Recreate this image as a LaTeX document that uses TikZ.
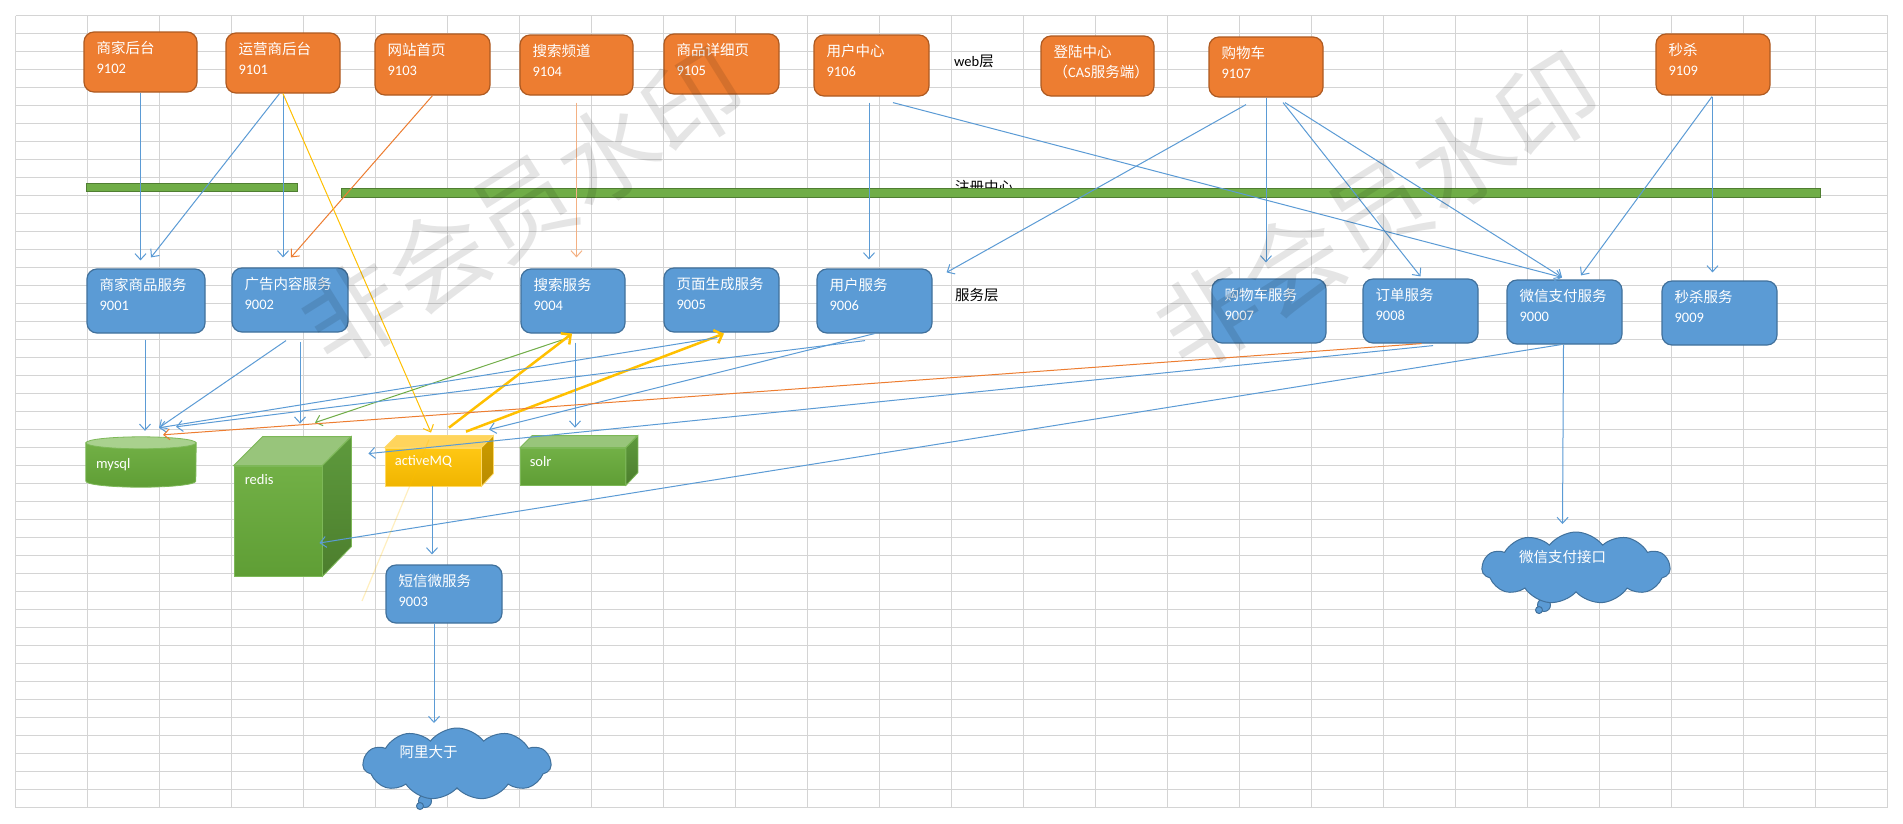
\documentclass[tikz,border=0pt]{standalone}
\usepackage{fontspec}
\setmainfont{Carlito}
\newfontfamily\cjk{Noto Sans CJK SC}
\usetikzlibrary{arrows.meta,calc,shapes.symbols}
\definecolor{orf}{HTML}{ED7D31}
\definecolor{ord}{HTML}{AE5A21}
\definecolor{blf}{HTML}{5B9BD5}
\definecolor{bld}{HTML}{41719C}
\definecolor{grf}{HTML}{70AD47}
\definecolor{grd}{HTML}{507E32}
\definecolor{gridc}{HTML}{D4D4D4}
\definecolor{yel}{HTML}{FFC000}
\definecolor{lor}{HTML}{F4B183}
\definecolor{gf1}{HTML}{72B046}
\definecolor{gf2}{HTML}{5F9E35}
\definecolor{gtop}{HTML}{98C57B}
\definecolor{gr1}{HTML}{5E9A3D}
\definecolor{gr2}{HTML}{4C7E2D}
\definecolor{gedge}{HTML}{7DB858}
\definecolor{cyltop}{HTML}{A9D18E}
\definecolor{yf1}{HTML}{FFC714}
\definecolor{yf2}{HTML}{F0B500}
\definecolor{ytop}{HTML}{FFD45C}
\definecolor{yr1}{HTML}{CC9C00}
\definecolor{yr2}{HTML}{B88B00}
\definecolor{yedge}{HTML}{FFD966}
\newcommand\twol[2]{{\cjk #1}\\#2}
\newcommand\castxt{{\cjk 登陆中心}\\{\cjk （}CAS{\cjk 服务端）}}
\begin{document}
\begin{tikzpicture}[x=1pt,y=-1pt,
  gridl/.style={draw=gridc, line width=1pt},
  webbox/.style={draw=ord, fill=orf, line width=1.2pt, rounded corners=10pt, inner sep=0pt, minimum width=114pt, minimum height=60pt},
  svcbox/.style={draw=bld, fill=blf, line width=1.2pt, rounded corners=10pt, inner sep=0pt, minimum width=115pt, minimum height=64pt},
  boxtxt/.style={anchor=north west, align=left, inner sep=0pt, text=white, font=\fontsize{14.5}{20}\selectfont, xshift=13pt, yshift=-10pt},
  stxt/.style={inner sep=0pt, text=white, font=\fontsize{14.5}{17}\selectfont},
  plaintxt/.style={anchor=west, inner sep=0pt, text=black, font=\fontsize{14.5}{17}\selectfont},
  regbar/.style={draw=grd, fill=grf, line width=1pt, inner sep=0pt},
  gcube/.style={inner sep=0pt, draw=gedge, line width=0.8pt, top color=gf1, bottom color=gf2},
  ycube/.style={inner sep=0pt, draw=yedge, line width=0.8pt, top color=yf1, bottom color=yf2},
  cloudbox/.style={cloud, cloud puffs=11, cloud puff arc=105, cloud ignores aspect, minimum width=188pt, minimum height=72pt, draw=bld, fill=blf, line width=1pt, inner sep=0pt},
  con/.style={draw=blf, line width=1pt, -{Straight Barb[length=6pt,width=11pt]}},
  conor/.style={con, draw=orf},
  conlor/.style={con, draw=lor},
  congr/.style={con, draw=grf},
  conyel/.style={con, draw=yel},
  conyelt/.style={draw=yel, line width=2.5pt, -{Straight Barb[length=7pt,width=14pt]}},
  wm/.style={font=\fontsize{100}{100}\selectfont\cjk, text=black, opacity=0.1, rotate=32, inner sep=0pt}
]
\fill[white] (0,0) rectangle (1903,823);
\useasboundingbox (0,0) rectangle (1903,823);
% grid
\foreach \i in {0,...,26}{\draw[gridl] ({15.6+72*\i},15.7) -- ({15.6+72*\i},807.7);}
\foreach \j in {0,...,44}{\draw[gridl] (15.6,{15.7+18*\j}) -- (1887.6,{15.7+18*\j});}

% registry
\node[plaintxt] (treg) at (955,187) {\cjk 注册中心};
\node[regbar, minimum width=211pt, minimum height=8pt] (reg1) at (191.5,187) {};
\node[regbar, minimum width=1479pt, minimum height=9pt] (reg2) at (1080.5,192.5) {};

% layer labels
\node[plaintxt] (tweb) at (954,61.5) {web{\cjk 层}};
\node[plaintxt] (tsvc) at (955,295) {\cjk 服务层};

% web layer
\node[webbox, minimum width=113pt, label={[boxtxt]north west:\twol{商家后台}{9102}}] (w9102) at (140.5,62) {};
\node[webbox, label={[boxtxt]north west:\twol{运营商后台}{9101}}] (w9101) at (283,63) {};
\node[webbox, minimum width=115pt, minimum height=61pt, label={[boxtxt]north west:\twol{网站首页}{9103}}] (w9103) at (432.5,64.5) {};
\node[webbox, minimum width=113pt, label={[boxtxt]north west:\twol{搜索频道}{9104}}] (w9104) at (576.5,65) {};
\node[webbox, minimum width=115pt, label={[boxtxt]north west:\twol{商品详细页}{9105}}] (w9105) at (721.5,64) {};
\node[webbox, minimum width=115pt, minimum height=61pt, label={[boxtxt]north west:\twol{用户中心}{9106}}] (w9106) at (871.5,65.5) {};
\node[webbox, minimum width=113pt, label={[boxtxt]north west:\castxt}] (wcas) at (1097.5,66) {};
\node[webbox, label={[boxtxt]north west:\twol{购物车}{9107}}] (w9107) at (1266,67) {};
\node[webbox, minimum height=61pt, label={[boxtxt]north west:\twol{秒杀}{9109}}] (w9109) at (1713,64.5) {};

% service layer
\node[svcbox, minimum width=118pt, label={[boxtxt]north west:\twol{商家商品服务}{9001}}] (s9001) at (146,301) {};
\node[svcbox, minimum width=116pt, label={[boxtxt]north west:\twol{广告内容服务}{9002}}] (s9002) at (290,300) {};
\node[svcbox, minimum width=104pt, label={[boxtxt]north west:\twol{搜索服务}{9004}}] (s9004) at (573,301) {};
\node[svcbox, label={[boxtxt]north west:\twol{页面生成服务}{9005}}] (s9005) at (721.5,300) {};
\node[svcbox, label={[boxtxt]north west:\twol{用户服务}{9006}}] (s9006) at (874.5,301) {};
\node[svcbox, minimum width=114pt, label={[boxtxt]north west:\twol{购物车服务}{9007}}] (s9007) at (1269,311) {};
\node[svcbox, label={[boxtxt]north west:\twol{订单服务}{9008}}] (s9008) at (1420.5,311) {};
\node[svcbox, label={[boxtxt]north west:\twol{微信支付服务}{9000}}] (s9000) at (1564.5,312) {};
\node[svcbox, label={[boxtxt]north west:\twol{秒杀服务}{9009}}] (s9009) at (1719.5,313) {};
\node[svcbox, minimum width=116pt, minimum height=58pt, label={[boxtxt]north west:\twol{短信微服务}{9003}}] (s9003) at (444,594) {};

% mysql cylinder
\node[inner sep=0pt, minimum width=110pt, minimum height=50pt] (mysql) at (141,462) {};
\path[draw=gedge, line width=0.8pt, top color=gf1, bottom color=gf2]
  ($(mysql.north west)+(0,6)$) -- ($(mysql.south west)+(0,-6)$)
  arc[start angle=180, end angle=360, x radius=55pt, y radius=6pt]
  -- ($(mysql.north east)+(0,6)$) -- cycle;
\filldraw[fill=cyltop, draw=gedge, line width=0.8pt] ($(mysql.north)+(0,6)$) ellipse[x radius=55pt, y radius=6pt];
\node[stxt, anchor=west] (tmysql) at ($(mysql.west)+(10,3)$) {mysql};

% redis cube
\node[gcube, minimum width=88pt, minimum height=110pt, label={[stxt, anchor=west, xshift=11pt, yshift=-14pt]north west:redis}] (redis) at (278,521) {};
\filldraw[fill=gtop, draw=gedge, line width=0.8pt] (redis.north west) -- ++(29,-29) -- ++(88,0) -- (redis.north east) -- cycle;
\path[draw=gedge, line width=0.8pt, top color=gr1, bottom color=gr2] (redis.north east) -- ++(29,-29) -- ++(0,110) -- (redis.south east) -- cycle;

% activeMQ cube
\node[ycube, minimum width=96pt, minimum height=38pt, label={[stxt, anchor=west, xshift=10pt, yshift=-14pt]north west:activeMQ}] (mq) at (433,467) {};
\filldraw[fill=ytop, draw=yedge, line width=0.8pt] (mq.north west) -- ++(12,-12) -- ++(96,0) -- (mq.north east) -- cycle;
\path[draw=yedge, line width=0.8pt, top color=yr1, bottom color=yr2] (mq.north east) -- ++(12,-12) -- ++(0,38) -- (mq.south east) -- cycle;

% solr cube
\node[gcube, minimum width=105pt, minimum height=37pt, label={[stxt, anchor=west, xshift=9.5pt, yshift=-14pt]north west:solr}] (solr) at (573,466.5) {};
\filldraw[fill=gtop, draw=gedge, line width=0.8pt] (solr.north west) -- ++(12,-12) -- ++(105,0) -- (solr.north east) -- cycle;
\path[draw=gedge, line width=0.8pt, top color=gr1, bottom color=gr2] (solr.north east) -- ++(12,-12) -- ++(0,37) -- (solr.south east) -- cycle;

% clouds
\filldraw[fill=blf, draw=bld, line width=1pt] (425,801) circle[radius=6.5pt];
\filldraw[fill=blf, draw=bld, line width=1pt] (420,806) circle[radius=3.5pt];
\node[cloudbox, label={[stxt, anchor=center, xshift=-28.5pt, yshift=12pt]center:{\cjk 阿里大于}}] (cloud1) at (457,764) {};
\filldraw[fill=blf, draw=bld, line width=1pt] (1544,605) circle[radius=6.5pt];
\filldraw[fill=blf, draw=bld, line width=1pt] (1539,610) circle[radius=3.5pt];
\node[cloudbox, label={[stxt, anchor=center, xshift=-13.5pt, yshift=11pt]center:{\cjk 微信支付接口}}] (cloud2) at (1576,568) {};

% connectors: web -> service
\draw[con] (w9102.south) -- ($(w9102.south|-s9001.north)+(0,-8)$);
\draw[con] ($(w9101.south)+(-3.5,0)$) -- ($(s9001.north)+(5,-11)$);
\draw[con] (w9101.south) -- ($(w9101.south|-s9002.north)+(0,-10)$);
\draw[conor] (w9103.south) -- ($(s9002.north)+(1,-10)$);
\draw[conyel] (w9101.south) -- ($(mq.north)+(-2,-15)$);
\draw[conlor] ($(w9104.south)+(0,7)$) -- ($(w9104.south|-s9004.north)+(0,-11)$);
\draw[con] ($(w9106.south)+(-2.5,6)$) -- ($(w9106.south|-s9006.north)+(-2.5,-9)$);
\draw[con] ($(w9106.south)+(21.5,6)$) -- ($(s9000.north)+(-2.5,-2)$);
\draw[con] ($(w9107.south)+(-20,7)$) -- ($(s9006.north east)+(14,4)$);
\draw[con] (w9107.south) -- ($(w9107.south|-s9007.north)+(0,-16)$);
\draw[con] ($(w9107.south)+(17,5)$) -- ($(s9008.north)+(0,-2)$);
\draw[con] ($(w9107.south)+(19,5)$) -- ($(s9000.north)+(-2.5,-2)$);
\draw[con] ($(w9109.south)+(-1,1)$) -- ($(s9000.north)+(16.5,-4)$);
\draw[con] ($(w9109.south)+(-0.5,1)$) -- ($(w9109.south|-s9009.north)+(-0.5,-8)$);

% connectors: service -> stores
\draw[con] ($(s9001.south)+(-1,6)$) -- ($(s9001.south|-mysql.north)+(-1,-6)$);
\draw[con] ($(s9002.south)+(-4,8)$) -- ($(mysql.north)+(18,-9)$);
\draw[con] ($(s9002.south)+(10,9)$) -- ($(redis.north)+(22,-42)$);
\draw[congr] ($(s9004.south)+(-7,5)$) -- ($(redis.north)+(37,-43)$);
\draw[conyelt] ($(mq.north)+(16,-20)$) -- ($(s9004.south)+(-1,0)$);
\draw[conyelt] ($(mq.north)+(33,-16)$) -- ($(s9005.south)+(2.5,1)$);
\draw[con] ($(s9004.south)+(2,9)$) -- ($(solr.north)+(2,-20)$);
\draw[con] ($(s9005.south)+(-4.5,5)$) -- ($(mysql.north)+(18,-9)$);
\draw[con] ($(s9006.south)+(-9.5,7)$) -- ($(mysql.north)+(35,-10)$);
\draw[con] (s9006.south) -- ($(mq.north)+(56,-18)$);
\draw[conor] ($(s9008.south)+(1,0)$) -- ($(mysql.north)+(22,-2)$);
\draw[con] ($(s9008.south)+(12.5,2)$) -- ($(redis.north east)+(46,-12)$);
\draw[con] ($(s9000.south)+(-3.5,0)$) -- ($(redis.east)+(-3,22)$);
\draw[con] ($(s9000.south)+(-1,0)$) -- ($(cloud2.center)+(-13.5,-44)$);
\draw[con] ($(mq.south)+(-1,0)$) -- ($(mq.south|-s9003.north)+(-1,-10)$);
\draw[con] ($(s9003.south)+(-10,0)$) -- ($(cloud1.center)+(-23,-41)$);
\coordinate (fade) at (362,601);
\draw[draw=yel, opacity=0.25, line width=1.2pt] ($(mq.north)+(-4,-8)$) -- (fade);

% watermark
\node[wm] (wm1) at (523,207) {非会员水印};
\node[wm] (wm2) at (1378,211) {非会员水印};
\end{tikzpicture}
\end{document}
